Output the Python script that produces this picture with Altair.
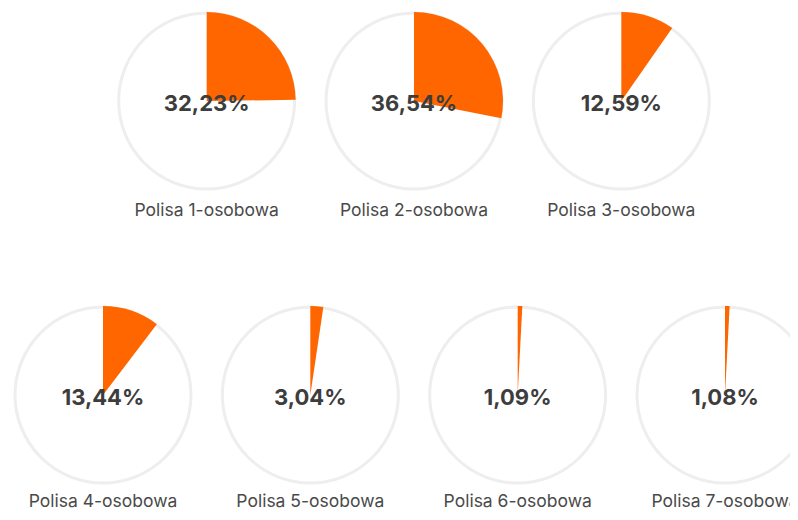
import math
import altair as alt
import pandas as pd

# ---- data ----
categories = [
    "Polisa 1-osobowa", "Polisa 2-osobowa", "Polisa 3-osobowa",
    "Polisa 4-osobowa", "Polisa 5-osobowa", "Polisa 6-osobowa", "Polisa 7-osobowa",
]
shares = [32.23, 36.54, 12.59, 13.44, 3.04, 1.09, 1.08]
share_labels = ["32,23%", "36,54%", "12,59%", "13,44%", "3,04%", "1,09%", "1,08%"]
order = list(range(len(categories)))

df = pd.DataFrame({"category": categories, "share": shares,
                   "label": share_labels, "order": order})

ORANGE = "#ff6600"
RING = "#eeeeee"
R = 88

xscale = alt.Scale(domain=[0, 3], range=[95, 717])
yscale = alt.Scale(domain=[0, 1], range=[93, 387])

base = alt.Chart(df).transform_calculate(
    row="datum.order < 3 ? 0 : 1",
    col="datum.order < 3 ? datum.order + 0.5 : datum.order - 3",
    zero="0",
    labelY="datum.order < 3 ? 0.390 : 1.382",
)

X = alt.X("col:Q", scale=xscale, axis=None)
Y = alt.Y("row:Q", scale=yscale, axis=None)

ring = base.mark_arc(radius=R, fill="white", stroke=RING, strokeWidth=3).encode(
    x=X, y=Y, theta=alt.value(0), theta2=alt.value(2 * math.pi)
)

wedge = base.mark_arc(radius=R + 1, color=ORANGE).encode(
    x=X, y=Y,
    theta=alt.Theta("zero:Q", scale=alt.Scale(domain=[0, 130], range=[0, 2 * math.pi])),
    theta2="share:Q",
)

pct = base.mark_text(font="Inter", fontSize=22, fontWeight="bold",
                     color="#3d3d3d", baseline="middle", align="center", dy=3).encode(
    x=X, y=Y, text="label:N"
)

names = base.mark_text(font="Inter", fontSize=17.5, color="#4a4a4a",
                       baseline="alphabetic", align="center").encode(
    x=X, y=alt.Y("labelY:Q", scale=yscale, axis=None), text="category:N"
)

chart = alt.layer(ring, wedge, pct, names).properties(
    width=782, height=504,
    autosize=alt.AutoSizeParams(type="none"),
    padding=0,
    background="white",
).configure_view(strokeWidth=0, stroke="transparent")

chart.save("out.html", embed_options={"renderer": "svg", "actions": False})
